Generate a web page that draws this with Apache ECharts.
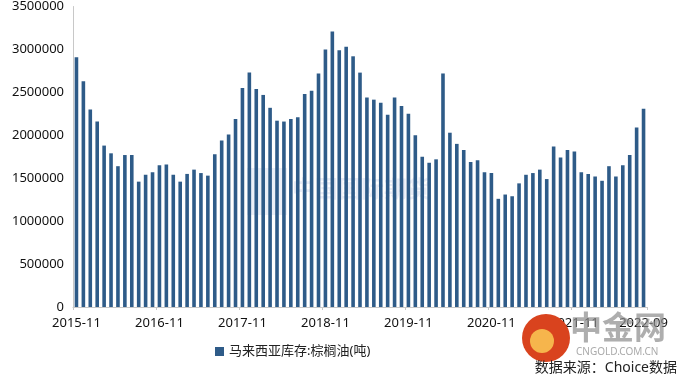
<!DOCTYPE html>
<html>
<head>
<meta charset="utf-8">
<script src="https://cdn.jsdelivr.net/npm/echarts@6/dist/echarts.min.js"></script>
<style>
html,body{margin:0;padding:0;background:#fff;}
#chart{width:680px;height:385px;}
</style>
</head>
<body>
<div id="chart"></div>
<script>
// Monthly categories 2015-11 .. 2022-09
var categories = [
 '2015-11','2015-12',
 '2016-01','2016-02','2016-03','2016-04','2016-05','2016-06','2016-07','2016-08','2016-09','2016-10','2016-11','2016-12',
 '2017-01','2017-02','2017-03','2017-04','2017-05','2017-06','2017-07','2017-08','2017-09','2017-10','2017-11','2017-12',
 '2018-01','2018-02','2018-03','2018-04','2018-05','2018-06','2018-07','2018-08','2018-09','2018-10','2018-11','2018-12',
 '2019-01','2019-02','2019-03','2019-04','2019-05','2019-06','2019-07','2019-08','2019-09','2019-10','2019-11','2019-12',
 '2020-01','2020-02','2020-03','2020-04','2020-05','2020-06','2020-07','2020-08','2020-09','2020-10','2020-11','2020-12',
 '2021-01','2021-02','2021-03','2021-04','2021-05','2021-06','2021-07','2021-08','2021-09','2021-10','2021-11','2021-12',
 '2022-01','2022-02','2022-03','2022-04','2022-05','2022-06','2022-07','2022-08','2022-09'
];
// 马来西亚库存:棕榈油(吨)
var stocks = [
 2910000,2630000,
 2300000,2160000,1880000,1790000,1640000,1770000,1770000,1460000,1540000,1570000,1650000,1660000,
 1540000,1460000,1550000,1600000,1560000,1530000,1780000,1940000,2010000,2190000,2550000,2730000,
 2540000,2470000,2320000,2170000,2160000,2190000,2210000,2480000,2520000,2720000,3000000,3210000,
 2990000,3030000,2920000,2730000,2440000,2415000,2380000,2240000,2440000,2340000,2250000,2000000,
 1750000,1680000,1720000,2720000,2030000,1900000,1830000,1690000,1710000,1570000,1560000,1260000,
 1310000,1290000,1440000,1540000,1560000,1600000,1490000,1870000,1740000,1830000,1810000,1570000,
 1550000,1520000,1470000,1640000,1520000,1650000,1770000,2090000,2310000
];
var yTicks = [0,500000,1000000,1500000,2000000,2500000,3000000,3500000];
var seriesName = '马来西亚库存:棕榈油(吨)';
var sourceText = '数据来源：Choice数据';

var FONT = '"Noto Sans","Noto Sans CJK SC",sans-serif';
var chart = echarts.init(document.getElementById('chart'));
var lastIdx = categories.length - 1;
chart.setOption({
  animation: false,
  backgroundColor: '#ffffff',
  grid: {left: 73, right: 33, top: 6, bottom: 78, containLabel: false},
  legend: {
    data: [seriesName],
    left: 210, top: 340,
    itemWidth: 9, itemHeight: 9, itemGap: 8,
    icon: 'rect',
    textStyle: {fontFamily: FONT, fontSize: 13, color: '#222'}
  },
  xAxis: {
    type: 'category',
    data: categories,
    boundaryGap: true,
    axisLine: {lineStyle: {color: '#c8c8c8', width: 1}},
    axisTick: {show: true, length: 3, lineStyle: {color: '#c8c8c8'},
      interval: function(i){ return i % 12 === 0; }},
    axisLabel: {
      interval: function(i){ return i % 12 === 0 || i === lastIdx; },
      fontFamily: FONT, fontSize: 13, color: '#111', margin: 10
    }
  },
  yAxis: {
    type: 'value',
    min: yTicks[0], max: yTicks[yTicks.length-1], interval: yTicks[1]-yTicks[0],
    axisLine: {show: true, lineStyle: {color: '#c8c8c8'}},
    axisTick: {show: false},
    splitLine: {show: false},
    axisLabel: {fontFamily: FONT, fontSize: 13, color: '#111', margin: 9,
      formatter: function(v){ return String(v); }}
  },
  series: [{
    name: seriesName,
    type: 'bar',
    data: stocks,
    barWidth: '52%',
    itemStyle: {color: '#2e5b88'}
  }],
  graphic: [
    {type: 'rect', left: 247, top: 168, z: 0, silent: true,
     shape: {width: 40, height: 47}, style: {fill: 'rgba(70,110,190,0.10)'}},
    {type: 'text', left: 292, top: 177, z: 0, silent: true,
     style: {text: '中国国际期货', fontFamily: '"Noto Sans CJK SC",sans-serif', fontSize: 23, fontWeight: 'bold', fill: 'rgba(70,110,190,0.12)'}},
    {type: 'circle', left: 522, top: 314, z: 10, silent: true,
     shape: {r: 24}, style: {fill: '#d9431e'}},
    {type: 'circle', left: 530, top: 329, z: 11, silent: true,
     shape: {r: 12}, style: {fill: '#f6b54c'}},
    {type: 'text', left: 570, top: 311, z: 10, silent: true,
     style: {text: '中金网', fontFamily: '"Noto Sans CJK SC",sans-serif', fontSize: 32, fontWeight: 'bold', fill: 'rgba(140,140,140,0.7)'}},
    {type: 'text', left: 576, top: 347, z: 10, silent: true,
     style: {text: 'CNGOLD.COM.CN', fontFamily: FONT, fontSize: 10, fill: '#aaaaaa'}},
    {type: 'text', right: 3, top: 361, z: 12, silent: true,
     style: {text: sourceText, fontFamily: FONT, fontSize: 14, fill: '#222'}}
  ]
});
</script>
</body>
</html>
